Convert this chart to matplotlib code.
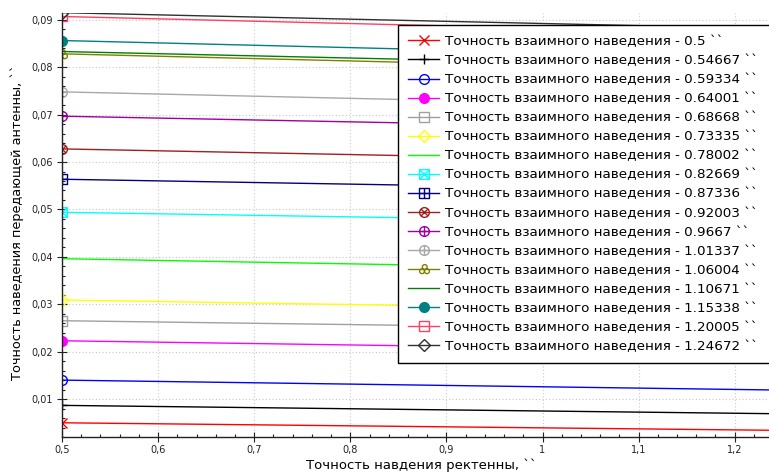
import matplotlib
matplotlib.use("Agg")
import matplotlib.pyplot as plt
from matplotlib.path import Path
from matplotlib.ticker import AutoMinorLocator, FuncFormatter
import numpy as np

# ---- data ----
x_points = [0.5, 1.24672]
mutual_accuracy = ["0.5", "0.54667", "0.59334", "0.64001", "0.68668", "0.73335",
                   "0.78002", "0.82669", "0.87336", "0.92003", "0.9667", "1.01337",
                   "1.06004", "1.10671", "1.15338", "1.20005", "1.24672"]
y_start = [0.0050, 0.00867, 0.0140, 0.0223, 0.02653, 0.0309, 0.03961, 0.0494,
           0.05637, 0.06277, 0.06967, 0.0748, 0.08282, 0.08331, 0.08563, 0.0907, 0.0915]
y_end = [0.0034, 0.0069, 0.0119, 0.0201, 0.0245, 0.0285, 0.0369, 0.0470,
         0.0538, 0.0598, 0.0667, 0.0714, 0.0791, 0.0799, 0.0819, 0.0870, 0.0881]
x_ticks = [0.5, 0.6, 0.7, 0.8, 0.9, 1.0, 1.1, 1.2]
y_ticks = [0.01, 0.02, 0.03, 0.04, 0.05, 0.06, 0.07, 0.08, 0.09]

# ---- custom markers ----
def circ(cx=0.0, cy=0.0, r=1.0):
    c = Path.unit_circle()
    return Path(c.vertices * r + np.array([cx, cy]), c.codes)

def seg(x0, y0, x1, y1):
    return Path([(x0, y0), (x1, y1)], [Path.MOVETO, Path.LINETO])

sq = Path([(-1, -1), (1, -1), (1, 1), (-1, 1), (-1, -1)],
          [Path.MOVETO, Path.LINETO, Path.LINETO, Path.LINETO, Path.CLOSEPOLY])
sq_x = Path.make_compound_path(sq, seg(-1, -1, 1, 1), seg(-1, 1, 1, -1))
sq_plus = Path.make_compound_path(sq, seg(-1, 0, 1, 0), seg(0, -1, 0, 1))
c_x = Path.make_compound_path(circ(), seg(-0.707, -0.707, 0.707, 0.707), seg(-0.707, 0.707, 0.707, -0.707))
c_plus = Path.make_compound_path(circ(), seg(-1, 0, 1, 0), seg(0, -1, 0, 1))
clover = Path.make_compound_path(circ(0.05, 0.5, 0.48), circ(-0.5, -0.35, 0.48), circ(0.5, -0.35, 0.48))

styles = [
    ("#ff0000", "x", True),
    ("#000000", "+", True),
    ("#0000ff", "o", False),
    ("#ff00ff", "o", True),
    ("#a0a0a0", "s", False),
    ("#ffff00", "D", False),
    ("#00ff00", None, False),
    ("#00ffff", sq_x, False),
    ("#000080", sq_plus, False),
    ("#a02020", c_x, False),
    ("#a000a0", c_plus, False),
    ("#a8a8a8", c_plus, False),
    ("#808000", clover, False),
    ("#008000", None, False),
    ("#008080", "o", True),
    ("#ff4060", "s", False),
    ("#303030", "D", False),
]

plt.rcParams['font.family'] = ['DejaVu Sans']
fig = plt.figure(figsize=(7.69, 4.72), dpi=100)
ax = fig.add_axes([62 / 769, 35 / 472, 717.6 / 769, 424.3 / 472])

for lab, y0, y1, (col, mk, filled) in zip(mutual_accuracy, y_start, y_end, styles):
    kw = dict(color=col, lw=1.0)
    if mk is not None:
        size = 7
        if mk == "D":
            size = 6
        kw.update(marker=mk, markevery=[0], markersize=size, markeredgewidth=1.0,
                  markeredgecolor=col,
                  markerfacecolor=(col if filled else "none"))
    ax.plot(x_points, [y0, y1], label=f"Точность взаимного наведения - {lab} ``", **kw)

ax.set_xlim(0.5, 1.24672)
ax.set_ylim(0.002, 0.0915)
ax.set_xticks(x_ticks)
ax.set_yticks(y_ticks)
ax.xaxis.set_minor_locator(AutoMinorLocator(5))
ax.yaxis.set_minor_locator(AutoMinorLocator(5))
fmt = FuncFormatter(lambda v, p: ("%g" % round(v, 4)).replace(".", ","))
ax.xaxis.set_major_formatter(fmt)
ax.yaxis.set_major_formatter(fmt)
ax.tick_params(which="major", direction="inout", length=7, width=0.8,
               labelsize=7, colors="#222222", pad=3)
ax.tick_params(axis="x", which="major", pad=2)
ax.tick_params(which="minor", direction="in", length=2.5, width=0.8, colors="#222222")
ax.grid(True, which="major", linestyle=(0, (1, 2)), color="#c8c8c8", linewidth=0.8)
ax.set_axisbelow(True)
for s in ("top", "right"):
    ax.spines[s].set_visible(False)
for s in ("left", "bottom"):
    ax.spines[s].set_color("#222222")
    ax.spines[s].set_linewidth(1.0)

ax.set_xlabel("Точность навдения ректенны, ``", fontsize=9.5)
ax.set_ylabel("Точность наведения передающей антенны, ``", fontsize=9.3)
ax.xaxis.set_label_coords(0.5, -0.051)
ax.yaxis.set_label_coords(-0.053, 0.505)

leg = ax.legend(loc="upper left", bbox_to_anchor=(398 / 769, 1 - 25 / 472, 0.6, 0.0),
                bbox_transform=fig.transFigure, mode="expand",
                fontsize=9.7, frameon=True, fancybox=False, framealpha=1.0,
                edgecolor="#000000", handlelength=2.3, handletextpad=0.45,
                labelspacing=0.45, borderpad=0.75, borderaxespad=0.0)
leg.get_frame().set_linewidth(1.0)

fig.savefig("out.png", dpi=100)
